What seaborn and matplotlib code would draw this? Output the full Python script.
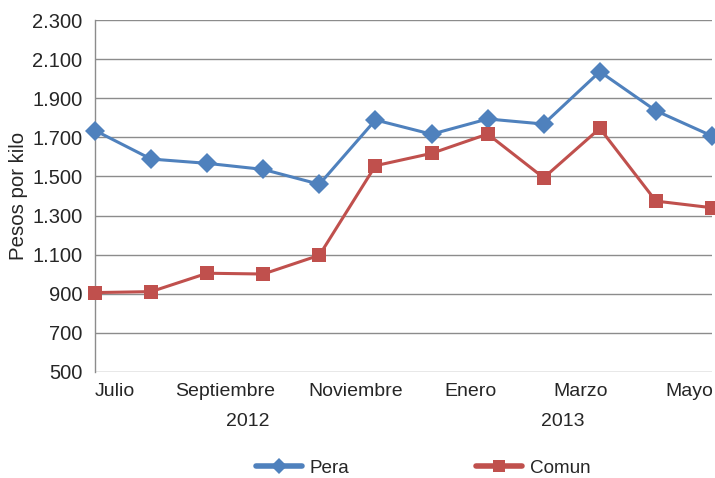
import matplotlib
matplotlib.use("Agg")
import matplotlib.pyplot as plt
from matplotlib.lines import Line2D
import pandas as pd
import seaborn as sns

# monthly prices, Julio 2012 .. Junio 2013
meses = ["Jul", "Ago", "Sep", "Oct", "Nov", "Dic", "Ene", "Feb", "Mar", "Abr", "May", "Jun"]
pera = [1735, 1589, 1567, 1536, 1460, 1789, 1716, 1794, 1768, 2036, 1836, 1707]
comun = [906, 911, 1005, 1001, 1097, 1555, 1618, 1717, 1493, 1746, 1374, 1340]

tick_labels = ["Julio", "Septiembre", "Noviembre", "Enero", "Marzo", "Mayo"]
tick_pos = [0.36, 2.32, 4.64, 6.7, 8.66, 10.59]
years = ["2012", "2013"]
year_pos = [2.73, 8.34]
y_ticks = list(range(500, 2301, 200))

colors = {"Pera": "#4F81BD", "Comun": "#C0504D"}
marks = {"Pera": "D", "Comun": "s"}

df = pd.DataFrame({
    "idx": list(range(len(meses))) * 2,
    "valor": pera + comun,
    "serie": ["Pera"] * len(meses) + ["Comun"] * len(meses),
})

sns.set_theme(style="white")
plt.rcParams["font.family"] = ["Liberation Sans", "DejaVu Sans"]

fig = plt.figure(figsize=(7.15, 4.78), dpi=100)
ax = fig.add_axes([0.1329, 0.2218, 0.8629, 0.7363])

sns.lineplot(data=df, x="idx", y="valor", hue="serie", style="serie",
             palette=colors, markers=marks, dashes=False,
             linewidth=2.2, markersize=10, markeredgewidth=0,
             ax=ax, clip_on=False, zorder=3, legend=False)

ax.set_xlim(0, 11)
ax.set_ylim(500, 2300)
ax.set_yticks(y_ticks)
ax.set_yticklabels([f"{v:,}".replace(",", ".") for v in y_ticks], fontsize=14.5)
ax.set_xticks(tick_pos)
ax.set_xticklabels(tick_labels, fontsize=14)
ax.tick_params(axis="x", length=0, pad=8)
ax.tick_params(axis="y", length=0, pad=9)
ax.set_xlabel("")
ax.set_ylabel("Pesos por kilo", fontsize=14.7, labelpad=3)
ax.yaxis.grid(True, color="#8c8c8c", linewidth=1)
ax.set_axisbelow(True)
for s in ["top", "right", "bottom"]:
    ax.spines[s].set_visible(False)
ax.spines["left"].set_color("#8c8c8c")
ax.spines["left"].set_linewidth(1)

for yr, p in zip(years, year_pos):
    ax.text(p, -0.14, yr, transform=ax.get_xaxis_transform(), ha="center", va="center", fontsize=14)

handles = [Line2D([], [], color=colors[k], lw=4, marker=marks[k], markersize=9 if k == "Comun" else 8,
                  markeredgewidth=0) for k in ["Pera", "Comun"]]
ax.legend(handles, ["Pera", "Comun"], loc="center", bbox_to_anchor=(0.592, 0.021),
          bbox_transform=fig.transFigure, ncol=2, frameon=False, fontsize=13.6,
          handlelength=2.45, columnspacing=6.7, handletextpad=0.4)

fig.savefig("out.png", dpi=100)
